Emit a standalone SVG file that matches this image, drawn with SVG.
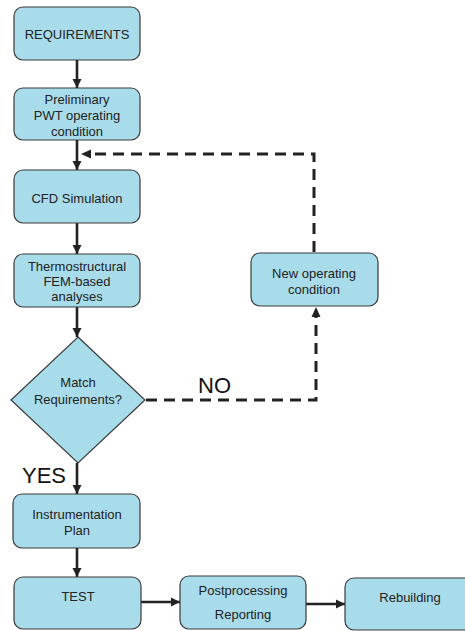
<svg xmlns="http://www.w3.org/2000/svg" width="465" height="631" viewBox="0 0 465 631">
<style>
.box{fill:#a9dcea;stroke:#3a3a3a;stroke-width:1.2}
.t{font-family:"Liberation Sans",Arial,sans-serif;font-size:13px;fill:#222;text-anchor:middle}
.big{font-family:"Liberation Sans",Arial,sans-serif;font-size:22px;fill:#111}
.ln{stroke:#222;stroke-width:2.6;fill:none}
.dash{stroke:#222;stroke-width:3;fill:none;stroke-dasharray:11,7}
</style>
<defs>
<marker id="ah" viewBox="0 0 10 10" refX="10" refY="5" markerWidth="3.6" markerHeight="3.6" orient="auto" markerUnits="strokeWidth">
<path d="M0,0 L10,5 L0,10 z" fill="#222"/>
</marker>
</defs>
<rect width="465" height="631" fill="#fff"/>
<g id="connectors">
<line class="ln" x1="77" y1="60" x2="77" y2="88" marker-end="url(#ah)"/>
<line class="ln" x1="77" y1="140" x2="77" y2="170" marker-end="url(#ah)"/>
<line class="ln" x1="77" y1="223" x2="77" y2="254" marker-end="url(#ah)"/>
<line class="ln" x1="77" y1="307" x2="77" y2="337" marker-end="url(#ah)"/>
<line class="ln" x1="77" y1="463" x2="77" y2="494" marker-end="url(#ah)"/>
<line class="ln" x1="77" y1="548" x2="77" y2="577" marker-end="url(#ah)"/>
<line class="ln" x1="141" y1="602" x2="180" y2="602" marker-end="url(#ah)"/>
<line class="ln" x1="306" y1="604" x2="345" y2="604" marker-end="url(#ah)"/>
<path class="dash" d="M146,400 H316 V316"/>
<path d="M316,307 L311.5,317 L320.5,317 z" fill="#222"/>
<path class="dash" d="M314,252 V154 H92"/>
<path d="M81,154 L91,149.5 L91,158.5 z" fill="#222"/>
<text class="big" x="198" y="393">NO</text>
<text class="big" x="22" y="483">YES</text>
</g>
<g id="n-requirements">
<rect class="box" x="14" y="7" width="126" height="53" rx="9"/>
<text class="t" x="77" y="39">REQUIREMENTS</text>
</g>
<g id="n-preliminary">
<rect class="box" x="14" y="88" width="126" height="52" rx="9"/>
<text class="t" x="77" y="104">Preliminary</text>
<text class="t" x="77" y="120">PWT operating</text>
<text class="t" x="77" y="136">condition</text>
</g>
<g id="n-cfd">
<rect class="box" x="14" y="170" width="126" height="53" rx="9"/>
<text class="t" x="77" y="203">CFD Simulation</text>
</g>
<g id="n-thermo">
<rect class="box" x="14" y="254" width="126" height="53" rx="9"/>
<text class="t" x="77" y="271">Thermostructural</text>
<text class="t" x="77" y="286">FEM-based</text>
<text class="t" x="77" y="301">analyses</text>
</g>
<g id="n-match">
<polygon class="box" points="78,337 145,400 78,463 11,400"/>
<text class="t" x="78" y="387">Match</text>
<text class="t" x="78" y="404">Requirements?</text>
</g>
<g id="n-newop">
<rect class="box" x="251" y="253" width="127" height="53" rx="9"/>
<text class="t" x="314" y="278">New operating</text>
<text class="t" x="314" y="294">condition</text>
</g>
<g id="n-instr">
<rect class="box" x="13" y="494" width="127" height="54" rx="9"/>
<text class="t" x="77" y="519">Instrumentation</text>
<text class="t" x="77" y="535">Plan</text>
</g>
<g id="n-test">
<rect class="box" x="14" y="577" width="127" height="52" rx="9"/>
<text class="t" x="78" y="601">TEST</text>
</g>
<g id="n-post">
<rect class="box" x="180" y="576" width="126" height="53" rx="9"/>
<text class="t" x="243" y="595">Postprocessing</text>
<text class="t" x="243" y="619">Reporting</text>
</g>
<g id="n-rebuild">
<rect class="box" x="345" y="578" width="130" height="52" rx="9"/>
<text class="t" x="410" y="602">Rebuilding</text>
</g>
</svg>
